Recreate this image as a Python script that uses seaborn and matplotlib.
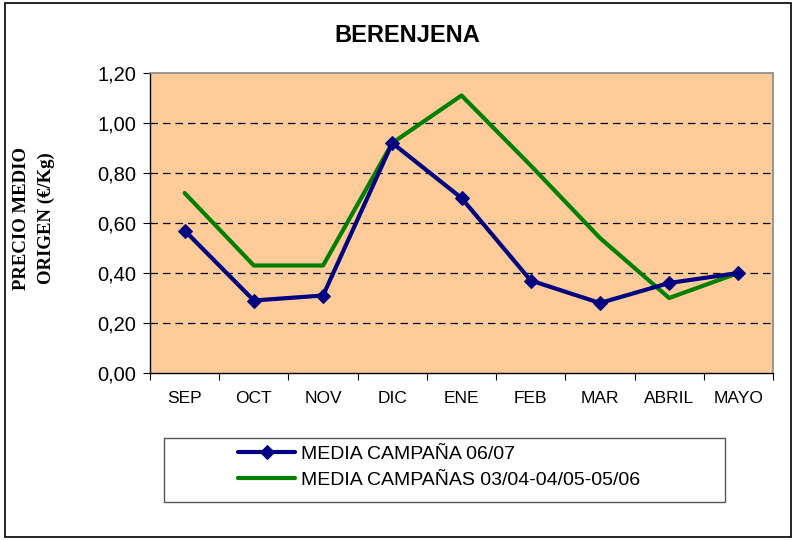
import matplotlib
matplotlib.use("Agg")
import matplotlib.pyplot as plt
import matplotlib.ticker as mticker
from matplotlib.patches import Rectangle
import pandas as pd
import seaborn as sns

months = ["SEP", "OCT", "NOV", "DIC", "ENE", "FEB", "MAR", "ABRIL", "MAYO"]
media_0607 = [0.57, 0.29, 0.31, 0.92, 0.70, 0.37, 0.28, 0.36, 0.40]
media_3camp = [0.72, 0.43, 0.43, 0.92, 1.11, 0.83, 0.54, 0.30, 0.40]
y_ticks = [0.0, 0.2, 0.4, 0.6, 0.8, 1.0, 1.2]

LABEL_A = "MEDIA CAMPAÑA 06/07"
LABEL_B = "MEDIA CAMPAÑAS 03/04-04/05-05/06"
BLUE = "#000080"
GREEN = "#008000"
BG = "#FFCC99"

sns.set_theme(style="white")
plt.rcParams["font.family"] = ["Liberation Sans", "DejaVu Sans"]
plt.rcParams["text.color"] = "black"
plt.rcParams["xtick.labelcolor"] = "black"
plt.rcParams["ytick.labelcolor"] = "black"

df = pd.DataFrame({"pos": list(range(len(months))) * 2,
                   "value": media_0607 + media_3camp,
                   "serie": [LABEL_A] * len(months) + [LABEL_B] * len(months)})

fig = plt.figure(figsize=(7.95, 5.4), dpi=100)
ax = fig.add_axes([150 / 795, 1 - 373 / 540, 623 / 795, 300 / 540])
ax.set_facecolor(BG)

sns.lineplot(data=df[df.serie == LABEL_B], x="pos", y="value", color=GREEN,
             linewidth=3, ax=ax, label=LABEL_B)
sns.lineplot(data=df[df.serie == LABEL_A], x="pos", y="value", color=BLUE,
             linewidth=3, marker="D", markersize=14, markeredgecolor=BLUE,
             ax=ax, label=LABEL_A)

ax.set_xlim(-0.5, len(months) - 0.5)
ax.set_ylim(0, 1.2)
ax.set_yticks(y_ticks)
ax.yaxis.set_major_formatter(mticker.FuncFormatter(lambda v, _: f"{v:.2f}".replace(".", ",")))
ax.tick_params(axis="y", labelsize=14.5, length=5, width=0.8, color="black",
               left=True, direction="out", pad=5)

ax.set_xticks([i - 0.5 for i in range(len(months) + 1)])
ax.set_xticklabels([])
ax.set_xticks(range(len(months)), minor=True)
ax.set_xticklabels(months, minor=True)
ax.tick_params(axis="x", which="major", length=5, width=0.8, color="black",
               bottom=True, direction="out")
ax.tick_params(axis="x", which="minor", length=0, labelsize=12.5, pad=13)

for v in y_ticks[1:-1]:
    ax.axhline(v, color="black", linestyle=(0, (6, 4)), linewidth=0.9, zorder=0.5)

for side in ["top", "right"]:
    ax.spines[side].set_color("#888888")
    ax.spines[side].set_linewidth(1.2)
for side in ["left", "bottom"]:
    ax.spines[side].set_color("black")
    ax.spines[side].set_linewidth(1.0)

ax.set_xlabel("")
ax.set_ylabel("")
fig.text(407 / 795, 1 - 35 / 540, "BERENJENA", ha="center", va="center",
         fontsize=17, fontweight="bold")
fig.text(34 / 795, 1 - 218 / 540, "PRECIO MEDIO\nORIGEN (€/Kg)", rotation=90,
         ha="center", va="center", fontsize=13.5, fontweight="bold",
         family=["Liberation Serif", "DejaVu Serif"], linespacing=1.55)

handles, labels = ax.get_legend_handles_labels()
order = [labels.index(LABEL_A), labels.index(LABEL_B)]
for h in handles:
    if h.get_label() == LABEL_A:
        h.set_markersize(7)
ax.legend([handles[i] for i in order], [labels[i] for i in order],
          loc="center", bbox_to_anchor=(439 / 795, 1 - 467 / 540),
          bbox_transform=fig.transFigure, frameon=False, fontsize=14,
          handlelength=2.9, handletextpad=0.3, labelspacing=0.45)

fig.patches.append(Rectangle((164 / 795, 1 - 502 / 540), 561 / 795, 64 / 540,
                             transform=fig.transFigure, fill=False,
                             edgecolor="#555555", linewidth=1.0))
fig.patches.append(Rectangle((5 / 795, 3 / 540), 786 / 795, 534 / 540,
                             transform=fig.transFigure, fill=False,
                             edgecolor="black", linewidth=1.2))

fig.savefig("out.png", dpi=100)
